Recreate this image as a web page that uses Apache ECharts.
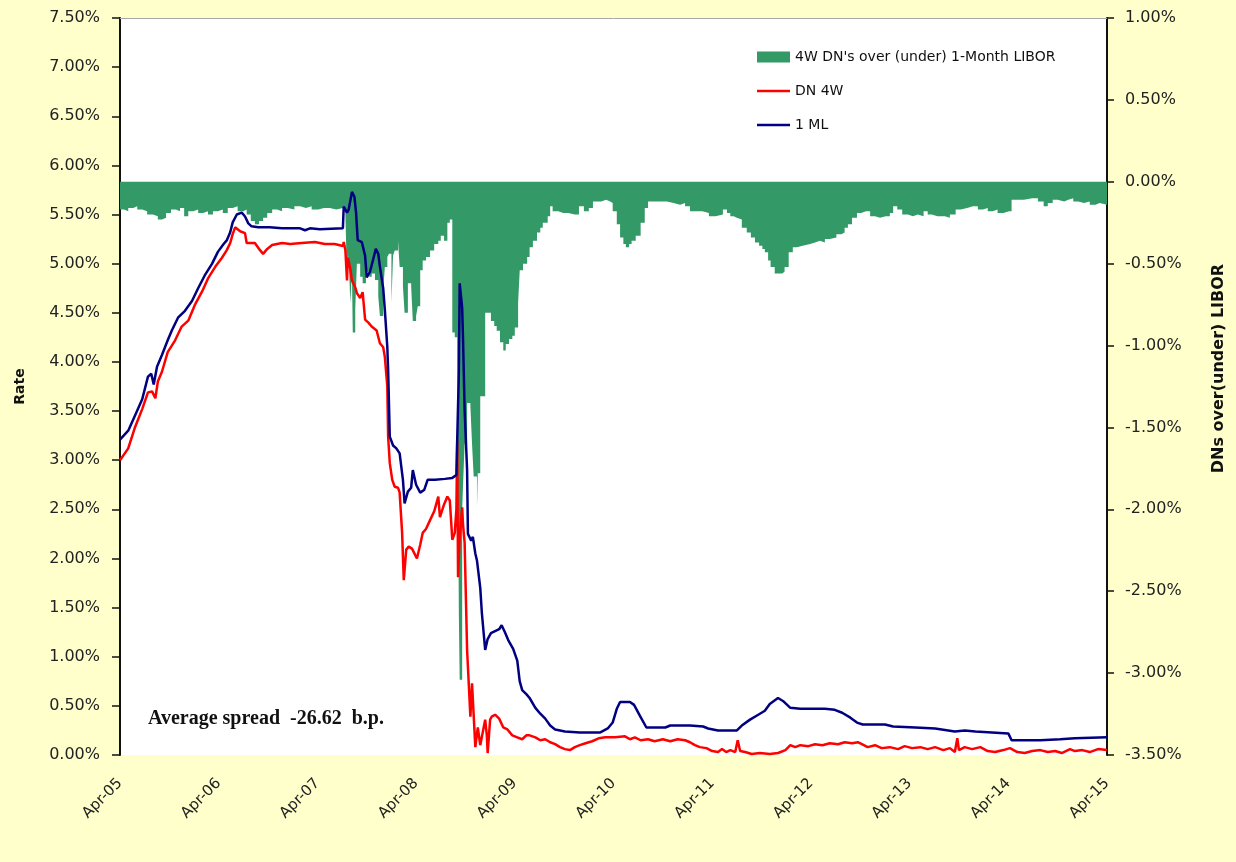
<!DOCTYPE html>
<html>
<head>
<meta charset="utf-8">
<script src="https://cdn.jsdelivr.net/npm/echarts@6/dist/echarts.min.js"></script>
<style>
html,body{margin:0;padding:0;background:#FFFFCC;}
#chart{width:1236px;height:862px;}
</style>
</head>
<body>
<div id="chart"></div>
<script>
// x positions are months since April 2005
const xTickLabels = ['Apr-05','Apr-06','Apr-07','Apr-08','Apr-09','Apr-10','Apr-11','Apr-12','Apr-13','Apr-14','Apr-15'];

const spreadName = "4W DN's over (under) 1-Month LIBOR";
const dnName = 'DN 4W';
const mlName = '1 ML';

// 1-Month LIBOR (%)
const mlMonths = [0,1.0,1.8,2.7,3.4,3.8,4.1,4.5,5.1,5.8,6.3,7.05,7.9,8.75,9.5,10.3,11.2,11.9,12.6,13.0,13.4,13.7,14.2,14.8,15.2,15.6,16.0,16.8,18.2,19.7,21.9,22.5,23.1,24.3,27.1,27.2,27.6,27.8,28.2,28.5,28.7,28.9,29.4,29.8,30.0,30.4,30.8,31.1,31.4,31.6,32.0,32.2,32.5,32.6,32.8,33.2,33.6,34.0,34.4,34.6,35.0,35.4,35.6,36.0,36.5,37.0,37.4,38.3,39.5,40.4,40.9,41.0,41.2,41.3,41.6,41.7,41.9,42.2,42.3,42.7,42.9,43.2,43.4,43.8,44.0,44.4,44.7,45.1,45.6,46.1,46.4,46.8,47.2,47.8,48.3,48.6,48.9,49.4,49.8,50.5,51.1,51.7,52.3,52.9,54.1,55.9,58.4,59.3,59.9,60.4,60.8,62.0,62.5,63.2,64.0,66.3,66.9,69.3,70.9,71.5,72.7,75.0,75.6,76.6,77.6,78.4,79.0,80.0,80.6,81.5,82.7,85.7,86.9,87.8,88.8,89.6,90.3,93.0,94.0,96.7,99.1,101.5,102.7,104.0,108.0,108.4,111.9,114.3,116.1,120];
const mlValues = [3.21,3.30,3.45,3.62,3.85,3.88,3.77,3.95,4.07,4.22,4.32,4.45,4.52,4.62,4.75,4.88,5.00,5.12,5.20,5.24,5.32,5.42,5.50,5.52,5.48,5.41,5.38,5.37,5.37,5.36,5.36,5.34,5.36,5.35,5.36,5.58,5.52,5.55,5.73,5.68,5.52,5.24,5.22,5.08,4.86,4.92,5.05,5.15,5.10,4.97,4.75,4.53,4.15,3.92,3.24,3.15,3.12,3.07,2.80,2.56,2.68,2.72,2.90,2.75,2.67,2.70,2.80,2.80,2.81,2.82,2.85,3.21,3.90,4.80,4.55,4.25,3.51,2.90,2.25,2.18,2.22,2.05,1.98,1.70,1.44,1.07,1.18,1.24,1.26,1.28,1.32,1.25,1.17,1.08,0.96,0.75,0.66,0.62,0.58,0.48,0.42,0.37,0.30,0.26,0.24,0.23,0.23,0.27,0.33,0.47,0.54,0.54,0.51,0.40,0.28,0.28,0.30,0.30,0.29,0.27,0.25,0.25,0.30,0.36,0.41,0.45,0.52,0.58,0.55,0.48,0.47,0.47,0.46,0.43,0.38,0.33,0.31,0.31,0.29,0.28,0.27,0.24,0.25,0.24,0.22,0.15,0.15,0.16,0.17,0.18];

// 4-week discount notes (%)
const dnMonths = [0,1.0,1.8,2.7,3.4,3.9,4.3,4.6,5.1,5.8,6.7,7.5,8.3,9.1,10.0,10.7,11.6,12.4,13.0,13.4,13.7,14.0,14.6,15.2,15.4,16.4,17.0,17.4,17.9,18.5,19.7,20.7,22.1,23.7,24.9,26.1,27.1,27.2,27.4,27.6,27.7,28.0,28.2,28.6,28.8,29.2,29.5,29.8,30.2,30.6,31.2,31.6,32.0,32.2,32.5,32.6,32.8,33.1,33.4,33.8,34.0,34.3,34.5,34.8,35.1,35.5,36.1,36.5,36.8,37.2,37.7,38.2,38.7,38.9,39.4,39.8,40.1,40.4,40.7,40.9,41.0,41.1,41.3,41.6,41.7,41.9,42.2,42.6,42.8,43.2,43.5,43.8,44.0,44.4,44.6,44.7,45.0,45.2,45.6,46.1,46.6,47.1,47.7,48.3,48.9,49.4,49.8,50.5,51.1,51.7,52.3,52.9,53.5,54.1,54.7,55.3,55.9,56.6,57.4,58.2,59.0,60.2,61.4,62.0,62.6,63.3,64.2,65.0,66.0,66.9,67.8,68.7,69.3,69.9,70.5,71.3,72.0,72.7,73.2,73.7,74.2,74.8,75.1,75.4,76.0,76.8,77.8,79.0,80.0,80.9,81.5,82.1,82.7,83.7,84.5,85.4,86.3,87.3,88.1,89.0,89.7,90.2,90.9,91.8,92.6,93.6,94.6,95.4,96.3,97.3,98.2,99.1,100.1,100.9,101.5,101.8,102.0,102.7,103.6,104.6,105.5,106.4,107.4,108.2,109.1,110.0,110.9,111.9,112.8,113.7,114.5,115.5,116.1,117.0,117.9,118.9,120];
const dnValues = [3.00,3.12,3.33,3.52,3.69,3.70,3.63,3.80,3.90,4.10,4.22,4.36,4.42,4.58,4.72,4.85,4.97,5.06,5.14,5.21,5.30,5.37,5.33,5.31,5.21,5.21,5.14,5.10,5.15,5.19,5.21,5.20,5.21,5.22,5.20,5.20,5.18,5.22,5.14,4.83,5.06,4.95,4.83,4.76,4.70,4.65,4.71,4.43,4.40,4.36,4.32,4.19,4.15,4.05,3.75,3.24,2.97,2.80,2.73,2.72,2.67,2.26,1.78,2.09,2.12,2.10,2.00,2.14,2.26,2.30,2.39,2.48,2.63,2.42,2.55,2.63,2.59,2.19,2.26,2.50,3.20,1.81,2.22,2.52,2.35,2.16,1.07,0.39,0.73,0.08,0.28,0.10,0.08,0.36,0.20,0.02,0.36,0.39,0.41,0.37,0.28,0.26,0.20,0.18,0.16,0.20,0.20,0.18,0.15,0.16,0.13,0.11,0.08,0.06,0.05,0.08,0.10,0.12,0.14,0.17,0.18,0.18,0.19,0.16,0.18,0.15,0.16,0.14,0.16,0.14,0.16,0.15,0.13,0.10,0.08,0.07,0.04,0.03,0.06,0.03,0.05,0.03,0.15,0.04,0.03,0.01,0.02,0.01,0.02,0.05,0.10,0.08,0.10,0.09,0.11,0.10,0.12,0.11,0.13,0.12,0.13,0.11,0.08,0.10,0.07,0.08,0.06,0.09,0.07,0.08,0.06,0.08,0.05,0.07,0.03,0.17,0.05,0.08,0.06,0.08,0.04,0.03,0.05,0.07,0.03,0.02,0.04,0.05,0.03,0.04,0.02,0.06,0.04,0.05,0.03,0.06,0.05];

// Spread DN 4W minus 1M LIBOR (%), right axis
const spreadMonths = [0,0.5,1.0,1.6,2.1,2.7,3.3,4.0,4.6,5.1,5.6,6.2,6.8,7.3,7.8,8.3,8.9,9.5,10.1,10.7,11.3,11.9,12.5,13.1,13.7,14.3,15.0,15.4,15.9,16.4,16.9,17.4,17.9,18.5,19.1,19.7,20.4,21.2,21.9,22.6,23.3,24.1,24.8,25.5,26.3,27.1,27.4,27.6,27.8,28.0,28.2,28.3,28.6,28.8,29.2,29.5,29.9,30.3,30.6,31.0,31.4,31.6,32.0,32.2,32.5,32.7,33.0,33.2,33.4,33.8,34.0,34.4,34.6,35.0,35.4,35.6,36.0,36.2,36.5,36.8,37.2,37.7,38.2,38.7,39.0,39.4,39.8,40.1,40.4,40.7,41.0,41.1,41.2,41.3,41.6,41.7,41.9,42.2,42.6,42.8,43.0,43.4,43.5,43.8,44.1,44.4,44.7,45.1,45.5,45.8,46.2,46.6,46.9,47.3,47.7,48.0,48.4,48.6,49.0,49.5,49.8,50.2,50.7,51.1,51.4,52.0,52.3,52.6,53.3,53.9,54.5,55.3,55.8,56.4,57.0,57.5,58.5,59.1,59.6,59.9,60.4,60.8,61.2,61.5,61.9,62.2,62.7,63.3,63.8,64.2,65.0,65.7,66.5,67.3,68.1,68.7,69.3,70.1,70.8,71.6,72.4,73.3,73.8,74.2,74.6,75.0,75.6,76.2,76.7,77.2,77.7,78.1,78.4,78.8,79.1,79.6,80.1,80.5,80.8,81.3,81.8,82.3,83.0,83.9,84.5,85.1,85.7,86.3,87.1,87.7,88.1,88.5,89.0,89.6,90.1,90.7,91.2,91.8,92.4,93.1,93.6,94.0,94.5,95.1,95.8,96.4,97.0,97.7,98.2,98.7,99.4,100.3,100.9,101.6,102.2,103.0,103.7,104.3,104.9,105.5,106.1,106.7,107.4,108.1,108.4,109.2,109.9,110.9,111.6,112.3,112.8,113.4,114.0,114.8,115.3,115.9,116.5,117.2,117.9,118.6,119.1,120];
const spreadValues = [-0.17,-0.18,-0.16,-0.15,-0.17,-0.18,-0.20,-0.21,-0.23,-0.22,-0.19,-0.17,-0.18,-0.16,-0.21,-0.18,-0.17,-0.19,-0.18,-0.20,-0.18,-0.17,-0.19,-0.16,-0.15,-0.18,-0.17,-0.20,-0.24,-0.26,-0.24,-0.22,-0.19,-0.17,-0.18,-0.16,-0.17,-0.15,-0.16,-0.15,-0.17,-0.16,-0.16,-0.17,-0.16,-0.16,-0.19,-0.60,-0.45,-0.74,-0.55,-0.92,-0.78,-0.50,-0.58,-0.62,-0.55,-0.58,-0.56,-0.60,-0.70,-0.82,-0.66,-0.52,-0.46,-0.44,-0.74,-0.45,-0.42,-0.36,-0.52,-0.64,-0.80,-0.62,-0.64,-0.85,-0.82,-0.76,-0.54,-0.48,-0.46,-0.42,-0.38,-0.36,-0.33,-0.36,-0.25,-0.23,-0.92,-0.95,-1.03,-1.88,-2.65,-3.04,-2.00,-1.86,-1.60,-1.35,-1.37,-1.60,-1.80,-1.99,-1.78,-1.31,-1.31,-0.80,-0.80,-0.85,-0.88,-0.91,-0.98,-1.03,-0.99,-0.96,-0.94,-0.89,-0.74,-0.54,-0.50,-0.46,-0.40,-0.36,-0.31,-0.28,-0.25,-0.21,-0.15,-0.18,-0.19,-0.19,-0.20,-0.20,-0.15,-0.18,-0.16,-0.12,-0.11,-0.12,-0.13,-0.18,-0.26,-0.34,-0.38,-0.40,-0.38,-0.36,-0.33,-0.25,-0.16,-0.12,-0.12,-0.12,-0.13,-0.14,-0.13,-0.15,-0.18,-0.18,-0.19,-0.21,-0.20,-0.17,-0.19,-0.21,-0.22,-0.23,-0.28,-0.31,-0.34,-0.37,-0.39,-0.41,-0.43,-0.48,-0.52,-0.56,-0.56,-0.55,-0.52,-0.43,-0.40,-0.39,-0.38,-0.37,-0.36,-0.37,-0.35,-0.34,-0.32,-0.31,-0.28,-0.26,-0.22,-0.19,-0.18,-0.18,-0.21,-0.22,-0.21,-0.21,-0.19,-0.15,-0.17,-0.20,-0.21,-0.20,-0.21,-0.18,-0.20,-0.21,-0.21,-0.22,-0.20,-0.17,-0.16,-0.15,-0.15,-0.17,-0.16,-0.18,-0.17,-0.19,-0.18,-0.18,-0.11,-0.11,-0.10,-0.10,-0.12,-0.15,-0.13,-0.11,-0.12,-0.11,-0.10,-0.12,-0.13,-0.12,-0.14,-0.13,-0.14,-0.14];

const avgSpreadText = 'Average spread  -26.62  b.p.';

function pairs(xs, ys){ return xs.map((x,i)=>[x, ys[i]]); }

const FONT = 'DejaVu Sans';
const LINE_ICON = 'path://M0,0H33V2.5H0Z';
const chart = echarts.init(document.getElementById('chart'), null, {renderer:'canvas'});
chart.setOption({
  animation: false,
  backgroundColor: '#FFFFCC',
  grid: {left:120, right:129, top:18, bottom:107, show:true, backgroundColor:'#FFFFFF', borderWidth:0},
  legend: {
    orient:'vertical', left:757, top:50, padding:0, itemWidth:33, itemHeight:11, itemGap:20,
    symbolKeepAspect:true,
    textStyle:{fontFamily:FONT, fontSize:14, color:'#111'},
    data:[{name:spreadName, icon:'rect'},{name:dnName, icon:LINE_ICON},{name:mlName, icon:LINE_ICON}]
  },
  xAxis: [{
    type:'value', min:0, max:120, interval:12,
    axisLine:{show:false, onZero:false}, axisTick:{show:false}, splitLine:{show:false},
    axisLabel:{rotate:45, margin:26, fontFamily:FONT, fontSize:15, color:'#222',
      formatter:(v)=>xTickLabels[Math.round(v/12)]}
  },{
    type:'value', min:0, max:120, position:'top',
    axisLine:{show:true, onZero:false, lineStyle:{color:'#A8A8A8', width:1}},
    axisTick:{show:false}, axisLabel:{show:false}, splitLine:{show:false}
  }],
  yAxis: [{
    type:'value', min:0, max:7.5, interval:0.5, position:'left',
    name:'Rate', nameLocation:'middle', nameGap:93, nameRotate:90,
    nameTextStyle:{fontFamily:FONT, fontSize:14, fontWeight:'bold', color:'#111'},
    axisLine:{show:true, onZero:false, lineStyle:{color:'#111', width:2}},
    axisTick:{show:true, inside:false, length:8, lineStyle:{color:'#111', width:1.5}},
    splitLine:{show:false},
    axisLabel:{margin:20, fontFamily:FONT, fontSize:16, color:'#222', formatter:(v)=>v.toFixed(2)+'%'}
  },{
    type:'value', min:-3.5, max:1.0, interval:0.5, position:'right',
    name:'DNs over(under) LIBOR', nameLocation:'middle', nameGap:104, nameRotate:90,
    nameTextStyle:{fontFamily:FONT, fontSize:16, fontWeight:'bold', color:'#111', padding:[0,0,0,36]},
    axisLine:{show:true, onZero:false, lineStyle:{color:'#111', width:2}},
    axisTick:{show:true, inside:false, length:7, lineStyle:{color:'#111', width:1.5}},
    splitLine:{show:false},
    axisLabel:{margin:18, fontFamily:FONT, fontSize:16, color:'#222', formatter:(v)=>v.toFixed(2)+'%'}
  }],
  graphic: [{
    type:'text', left:148, top:709, z:100,
    style:{text:avgSpreadText, font:'bold 20px "Liberation Serif"', fill:'#111'}
  }],
  series: [{
    name:spreadName, type:'line', xAxisIndex:0, yAxisIndex:1, step:'end',
    symbol:'none', lineStyle:{width:0, color:'#339966'}, itemStyle:{color:'#339966'},
    areaStyle:{color:'#339966', opacity:1}, z:1,
    data:pairs(spreadMonths, spreadValues)
  },{
    name:dnName, type:'line', xAxisIndex:0, yAxisIndex:0, symbol:'none',
    lineStyle:{width:2.5, color:'#FF0000'}, itemStyle:{color:'#FF0000'}, z:2,
    data:pairs(dnMonths, dnValues)
  },{
    name:mlName, type:'line', xAxisIndex:0, yAxisIndex:0, symbol:'none',
    lineStyle:{width:2.5, color:'#000080'}, itemStyle:{color:'#000080'}, z:3,
    data:pairs(mlMonths, mlValues)
  }]
});
</script>
</body>
</html>
